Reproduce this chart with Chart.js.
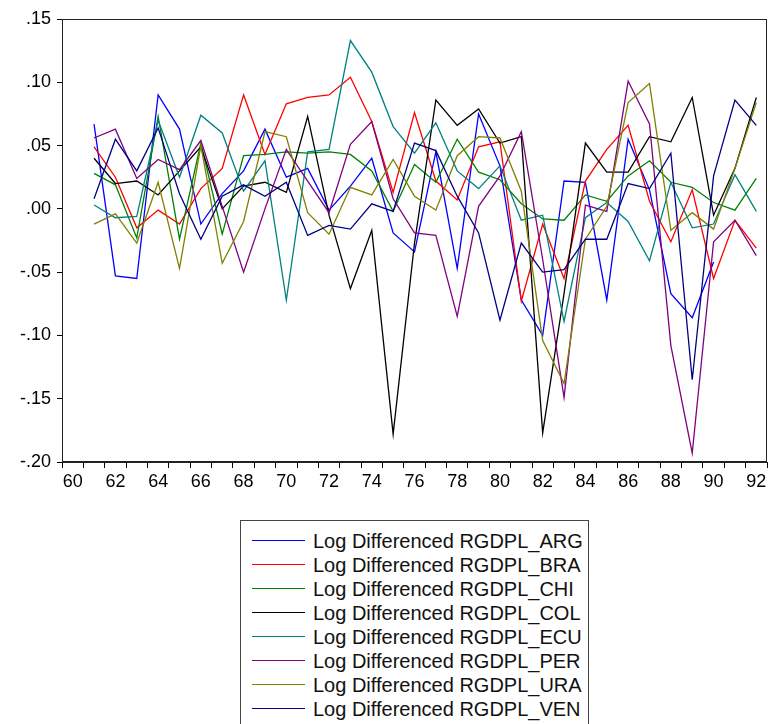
<!DOCTYPE html>
<html>
<head>
<meta charset="utf-8">
<script src="https://cdn.jsdelivr.net/npm/chart.js@4.4.1/dist/chart.umd.min.js"></script>
<style>
  body { margin: 0; background: #fff; width: 771px; height: 724px; overflow: hidden; position: relative; font-family: Arial, "Liberation Sans", sans-serif; }
  #wrap { position: absolute; left: 0; top: 0; width: 771px; height: 505px; }
  #legend { position: absolute; left: 240px; top: 520px; width: 349px; height: 220px; border: 1px solid #444; box-sizing: border-box; padding-top: 8px; }
  .row { position: relative; height: 24px; line-height: 24px; font-size: 20px; color: #111; white-space: nowrap; padding-left: 72px; }
  .swatch { position: absolute; left: 11px; top: 11px; width: 53px; height: 1px; }
</style>
</head>
<body>
<div id="wrap"><canvas id="chart"></canvas></div>
<div id="legend"></div>
<script>
// years of the differenced series
const years = [61, 62, 63, 64, 65, 66, 67, 68, 69, 70, 71, 72, 73, 74, 75, 76,
               77, 78, 79, 80, 81, 82, 83, 84, 85, 86, 87, 88, 89, 90, 91, 92];

const seriesNames = ['ARG', 'BRA', 'CHI', 'COL', 'ECU', 'PER', 'URA', 'VEN'];
const seriesColors = ['#0000ff', '#ff0000', '#008000', '#000000', '#008080', '#800080', '#808000', '#000080'];

const argValues = [0.067, -0.053, -0.055, 0.090, 0.063, -0.012, 0.012, 0.030, 0.063, 0.025, 0.032, -0.001, 0.018, 0.040, -0.019, -0.034,
                   0.045, -0.047, 0.075, 0.034, -0.072, -0.100, 0.022, 0.021, -0.072, 0.055, 0.015, -0.067, -0.086, -0.042, null, null];
const braValues = [0.049, 0.025, -0.015, -0.001, -0.012, 0.016, 0.032, 0.090, 0.043, 0.083, 0.088, 0.090, 0.104, 0.069, 0.013, 0.076,
                   0.022, 0.007, 0.049, 0.053, -0.073, -0.012, -0.055, 0.022, 0.047, 0.066, 0.006, -0.026, 0.015, -0.055, -0.009, -0.031];
const chiValues = [0.028, 0.019, -0.023, 0.073, -0.024, 0.052, -0.020, 0.042, 0.043, 0.045, 0.044, 0.045, 0.043, 0.030, -0.002, 0.035,
                   0.021, 0.055, 0.029, 0.023, 0.004, -0.008, -0.009, 0.011, 0.006, 0.026, 0.038, 0.021, 0.017, 0.005, -0.001, 0.024];
const colValues = [0.040, 0.020, 0.022, 0.011, 0.030, 0.049, 0.000, 0.018, 0.021, 0.013, 0.073, -0.005, -0.063, -0.017, -0.178, -0.027,
                   0.086, 0.066, 0.079, 0.052, 0.057, -0.177, -0.067, 0.052, 0.029, 0.029, 0.057, 0.053, 0.088, -0.005, 0.032, 0.088];
const ecuValues = [0.003, -0.007, -0.006, 0.070, 0.025, 0.074, 0.060, 0.014, 0.038, -0.072, 0.045, 0.047, 0.133, 0.108, 0.065, 0.044,
                   0.068, 0.030, 0.016, 0.034, -0.009, -0.005, -0.089, -0.007, 0.005, -0.010, -0.041, 0.021, -0.015, -0.012, 0.027, -0.002];
const perValues = [0.056, 0.063, 0.024, 0.039, 0.031, 0.054, 0.002, -0.050, 0.000, 0.047, 0.022, -0.003, 0.051, 0.069, 0.008, -0.019,
                   -0.021, -0.085, 0.002, 0.026, 0.061, -0.040, -0.149, 0.003, -0.002, 0.101, 0.067, -0.108, -0.193, -0.026, -0.009, -0.037];
const uraValues = [-0.012, -0.004, -0.027, 0.021, -0.047, 0.050, -0.043, -0.010, 0.061, 0.057, -0.003, -0.020, 0.017, 0.011, 0.039, 0.010,
                   -0.001, 0.042, 0.057, 0.056, 0.014, -0.104, -0.138, -0.024, 0.002, 0.084, 0.099, -0.017, -0.003, -0.016, 0.032, 0.084];
const venValues = [0.008, 0.055, 0.030, 0.064, 0.012, -0.024, 0.010, 0.019, 0.010, 0.021, -0.021, -0.013, -0.016, 0.004, -0.002, 0.052,
                   0.046, 0.010, -0.019, -0.088, -0.027, -0.050, -0.048, -0.024, -0.024, 0.020, 0.016, 0.044, -0.135, 0.026, 0.086, 0.066];

const allValues = [argValues, braValues, chiValues, colValues, ecuValues, perValues, uraValues, venValues];

// y tick labels in the EViews style: .15, .00, -.05
function fmtY(v) {
    const r = Math.round(v * 100) / 100;
    let s = Math.abs(r).toFixed(2).replace(/^0/, '');
    return r < 0 ? '-' + s : s;
}

// box around the plot area
const frame = {
    id: 'frame',
    afterDraw(chart) {
        const a = chart.chartArea;
        const ctx = chart.ctx;
        ctx.save();
        ctx.strokeStyle = '#222';
        ctx.lineWidth = 1;
        ctx.strokeRect(Math.round(a.left) + 0.5, Math.round(a.top) + 0.5, Math.round(a.right - a.left) - 1, Math.round(a.bottom - a.top) - 1);
        ctx.restore();
    }
};

const datasets = seriesNames.map((name, i) => ({
    label: 'Log Differenced RGDPL_' + name,
    data: years.map((yr, j) => ({ x: yr, y: allValues[i][j] })),
    borderColor: seriesColors[i],
    backgroundColor: seriesColors[i],
    borderWidth: 1.3,
    pointRadius: 0,
    tension: 0,
    spanGaps: false,
    order: seriesNames.length - i
}));

Chart.defaults.font.family = 'Arial, "Liberation Sans", sans-serif';
Chart.defaults.color = '#000';

new Chart(document.getElementById('chart'), {
    type: 'line',
    data: { datasets: datasets },
    options: {
        responsive: true,
        maintainAspectRatio: false,
        animation: false,
        layout: { padding: { top: 19, right: 4, left: 0, bottom: 0 } },
        plugins: { legend: { display: false }, tooltip: { enabled: false } },
        scales: {
            x: {
                type: 'linear',
                min: 59.5,
                max: 92.5,
                afterBuildTicks: (scale) => {
                    const t = [];
                    for (let v = 59.5; v <= 92.5; v += 0.5) t.push({ value: v });
                    scale.ticks = t;
                },
                afterFit: (scale) => { scale.height = 43; },
                ticks: {
                    autoSkip: false,
                    maxRotation: 0,
                    padding: 3,
                    font: { size: 18 },
                    callback: (v) => (Number.isInteger(v) && v % 2 === 0) ? String(v) : ''
                },
                grid: {
                    drawOnChartArea: false,
                    tickLength: 6,
                    color: (ctx) => (ctx.tick && !Number.isInteger(ctx.tick.value)) ? '#000' : 'rgba(0,0,0,0)'
                },
                border: { display: true, color: '#222', width: 1 }
            },
            y: {
                min: -0.2,
                max: 0.15,
                afterFit: (scale) => { scale.width = 62; },
                ticks: {
                    stepSize: 0.05,
                    padding: 6,
                    font: { size: 18 },
                    callback: (v) => fmtY(v)
                },
                grid: { drawOnChartArea: false, tickLength: 5, color: '#000' },
                border: { display: true, color: '#222', width: 1 }
            }
        }
    },
    plugins: [frame]
});

// legend box below the chart
const legendBox = document.getElementById('legend');
seriesNames.forEach((name, i) => {
    const row = document.createElement('div');
    row.className = 'row';
    const sw = document.createElement('span');
    sw.className = 'swatch';
    sw.style.background = seriesColors[i];
    row.appendChild(sw);
    row.appendChild(document.createTextNode('Log Differenced RGDPL_' + name));
    legendBox.appendChild(row);
});
</script>
</body>
</html>
